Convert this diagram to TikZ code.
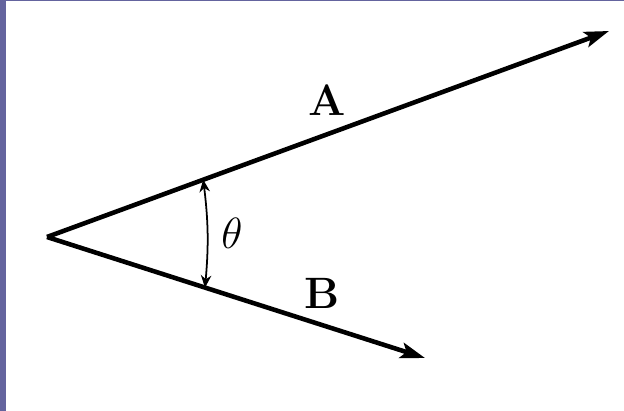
\documentclass[tikz,border=0pt]{standalone}
\usepackage{amsmath}
\usepackage{tikz}
\usetikzlibrary{arrows.meta,calc}
\definecolor{frame}{RGB}{100,100,158}

\begin{document}
\begin{tikzpicture}[x=0.02cm,y=-0.02cm]
\useasboundingbox (0,0) rectangle (624,411);
\fill[frame] (0,0) rectangle (624,411);
\fill[white] (6,1) rectangle (624,411);
\coordinate (O) at (47,237);
\coordinate (A) at (609,31);
\coordinate (B) at (425,358);
\coordinate (P) at ($(O)!0.278!(A)$);
\coordinate (Q) at ($(O)!0.418!(B)$);
\draw[-{Stealth[length=14pt,width=9pt,inset=3pt]},line width=2.6pt] (O) -- (A);
\draw[-{Stealth[length=14pt,width=9pt,inset=3pt]},line width=2.6pt] (O) -- (B);
\draw[{Stealth[length=7pt,width=6pt]}-{Stealth[length=7pt,width=6pt]},line width=1pt] (P) to[bend left=6] (Q);
\node (labA) at (327,100) {\fontsize{25}{25}\selectfont\bfseries A};
\node (labB) at (322,293) {\fontsize{25}{25}\selectfont\bfseries B};
\node (theta) at (232,233) {\fontsize{24}{24}\selectfont$\theta$};
\end{tikzpicture}
\end{document}
